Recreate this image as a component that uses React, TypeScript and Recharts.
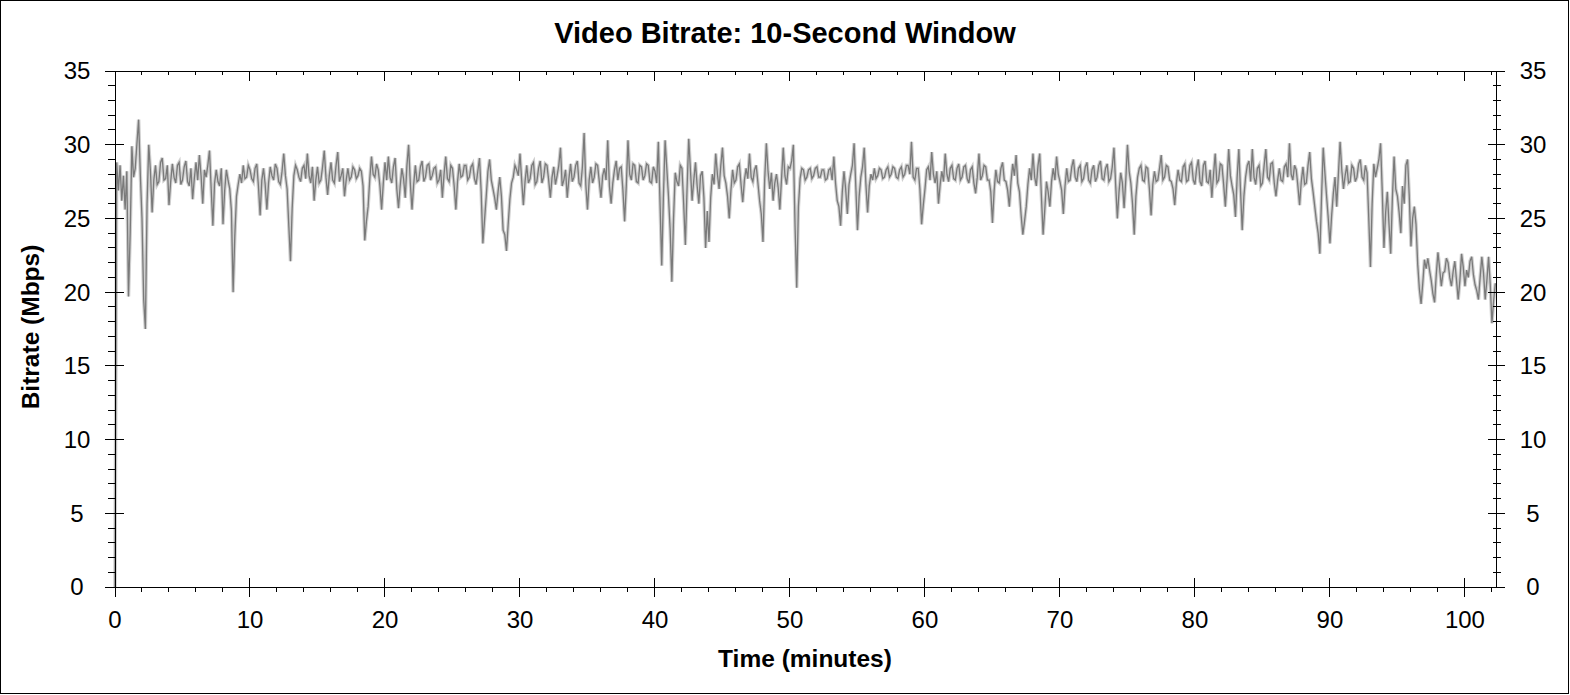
import { Line, LineChart, XAxis, YAxis } from "recharts";

// one sample every eighth of a minute
const STEP = 0.125;

const min00 = [
  0, 28.8, 26.9, 28.6, 26.2, 27.9, 25.6, 28.2, 19.7, 24.0,
  29.9, 27.8, 28.4, 30.1, 31.7, 28.0, 25.0, 19.5, 17.5, 26.0,
  30.0, 28.2, 25.4, 27.6, 28.6, 27.3, 27.5, 28.8, 29.1, 27.6,
  27.7, 28.6, 25.9, 27.5, 28.7, 27.8, 27.4, 28.6, 28.8, 27.3,
  27.6, 28.5, 28.9, 27.5, 27.2, 28.4, 26.3, 27.7, 28.8, 27.6,
  29.3, 27.9, 26.0, 28.3, 27.8, 28.6, 29.6, 27.0, 24.5, 27.4,
  28.3, 27.5, 27.2, 28.4, 24.6, 26.9, 28.3, 27.6, 27.0, 25.5,
  20.0, 23.8, 26.5, 27.3, 28.0, 27.4, 28.6, 27.7, 27.8, 28.6,
];
const min10 = [
  28.3, 27.7, 27.5, 28.4, 28.7, 27.2, 25.2, 27.6, 28.4, 27.3,
  25.6, 27.4, 28.5, 27.9, 27.6, 28.7, 28.4, 27.5, 27.3, 28.2,
  29.4, 27.9, 27.0, 24.5, 22.1, 25.7, 27.9, 28.6, 28.3, 27.8,
  27.5, 28.4, 28.6, 27.7, 29.4, 27.9, 27.4, 28.5, 26.2, 27.6,
  28.5, 27.4, 27.6, 28.5, 29.6, 27.8, 26.6, 27.9, 28.8, 27.6,
  27.4, 28.6, 29.5, 27.5, 27.9, 28.4, 26.5, 27.6, 28.4, 27.6,
  27.8, 28.5, 28.3, 27.7, 27.9, 28.4, 28.2, 27.2, 23.5, 24.8,
  25.8, 27.7, 29.2, 28.0, 27.8, 28.7, 28.3, 27.2, 25.6, 27.4,
];
const min20 = [
  28.8, 27.6, 29.2, 27.8, 27.4, 28.5, 29.1, 27.0, 25.7, 27.2,
  28.4, 27.7, 26.4, 28.6, 30.0, 27.4, 25.6, 27.3, 28.6, 27.5,
  27.6, 28.5, 28.9, 27.5, 27.8, 28.6, 28.7, 27.6, 27.9, 28.4,
  28.5, 27.4, 27.6, 28.3, 26.4, 28.0, 29.2, 27.7, 27.5, 28.6,
  28.4, 27.2, 25.6, 27.5, 28.7, 27.8, 27.9, 28.6, 28.6, 27.6,
  27.8, 28.5, 28.7, 27.7, 27.3, 28.2, 29.1, 26.8, 23.3, 24.9,
  26.5, 28.2, 29.0, 27.6, 27.0, 26.4, 25.6, 26.8, 27.8, 26.5,
  24.2, 23.9, 22.8, 24.6, 26.3, 27.4, 27.8, 28.6, 28.3, 27.9,
];
const min30 = [
  29.4, 27.6, 25.9, 27.5, 28.6, 27.4, 27.7, 28.6, 28.8, 27.3,
  27.5, 28.4, 28.9, 27.4, 27.8, 28.7, 28.6, 27.6, 26.4, 27.8,
  28.5, 27.3, 27.9, 28.6, 29.8, 27.2, 27.6, 28.3, 26.4, 27.7,
  28.7, 27.5, 27.8, 28.6, 28.9, 27.4, 27.2, 28.5, 30.8, 27.3,
  25.6, 27.6, 28.5, 27.4, 27.8, 28.7, 28.6, 27.5, 26.4, 27.9,
  28.4, 27.6, 30.3, 27.2, 26.0, 27.4, 28.3, 28.9, 27.6, 28.4,
  28.5, 26.9, 24.8, 27.2, 30.3, 28.0, 27.6, 28.7, 28.6, 27.5,
  27.4, 28.6, 28.5, 27.6, 27.9, 28.7, 28.6, 27.5, 27.4, 28.5,
];
const min40 = [
  28.2, 27.4, 30.2, 26.0, 21.8, 26.5, 30.3, 28.4, 26.5, 24.2,
  20.7, 25.0, 28.1, 27.5, 27.2, 28.6, 28.4, 26.0, 23.2, 27.0,
  30.4, 28.3, 26.2, 27.6, 28.8, 27.2, 26.0, 27.9, 28.2, 26.4,
  23.0, 25.5, 23.4, 26.4, 28.0, 27.3, 29.4, 28.0, 27.0, 28.6,
  29.8, 27.9, 27.4, 26.5, 25.0, 26.9, 28.3, 27.4, 27.6, 28.5,
  28.7, 27.3, 26.1, 27.6, 28.4, 27.7, 29.4, 27.8, 27.5, 28.3,
  28.6, 27.4, 26.2, 25.3, 23.4, 27.6, 30.1, 28.2, 27.0, 28.1,
  26.2, 27.4, 28.0, 27.1, 25.6, 27.7, 29.8, 27.9, 27.3, 28.5,
];
const min50 = [
  28.4, 28.9, 30.0, 24.5, 20.3, 25.8, 27.7, 28.4, 28.3, 27.6,
  27.8, 28.3, 28.4, 27.7, 27.9, 28.4, 28.5, 27.8, 27.8, 28.3,
  28.3, 27.6, 27.7, 28.3, 28.4, 27.6, 29.2, 27.4, 26.2, 25.8,
  24.5, 26.8, 28.2, 27.0, 25.3, 27.3, 28.0, 28.6, 30.1, 27.2,
  24.2, 26.5, 27.8, 28.5, 29.8, 27.3, 25.4, 27.2, 28.0, 27.6,
  28.4, 27.7, 27.9, 28.4, 28.3, 27.7, 27.8, 28.3, 28.5, 27.8,
  28.0, 28.5, 28.4, 27.8, 27.7, 28.3, 28.5, 27.8, 28.0, 28.6,
  28.6, 28.0, 30.2, 27.8, 27.6, 28.4, 28.4, 27.0, 24.6, 25.9,
];
const min60 = [
  27.0, 28.3, 28.5, 27.6, 29.5, 28.0, 27.4, 28.2, 26.0, 27.3,
  28.2, 27.5, 29.4, 28.0, 27.5, 28.4, 28.6, 27.7, 27.6, 28.4,
  28.7, 27.6, 27.8, 28.5, 28.6, 27.7, 27.4, 28.3, 28.5, 27.4,
  26.7, 27.8, 29.4, 27.6, 27.9, 28.6, 28.5, 27.6, 27.6, 26.8,
  24.7, 26.9, 28.3, 27.5, 27.4, 28.4, 28.8, 27.6, 27.5, 26.9,
  25.8, 27.5, 28.7, 27.9, 29.3, 27.4, 26.8, 25.2, 23.9, 24.8,
  25.8, 27.3, 28.4, 27.6, 29.4, 27.8, 27.2, 28.6, 29.4, 26.5,
  23.9, 25.6, 27.5, 26.8, 25.8, 27.5, 28.4, 27.6, 29.2, 28.0,
];
const min70 = [
  27.5, 26.9, 25.3, 27.2, 28.4, 27.5, 27.6, 28.5, 29.0, 27.8,
  27.5, 28.4, 28.6, 27.5, 27.7, 28.5, 28.8, 27.6, 27.4, 28.3,
  28.6, 27.5, 27.8, 28.6, 28.9, 27.7, 27.6, 28.4, 28.7, 27.5,
  27.7, 28.5, 29.8, 27.3, 25.0, 26.8, 28.1, 27.4, 25.7, 27.6,
  30.0, 28.2, 27.4, 26.0, 23.9, 26.5, 27.8, 28.4, 28.6, 27.6,
  27.5, 28.5, 28.4, 27.0, 25.2, 27.3, 28.2, 27.5, 27.6, 28.4,
  29.3, 27.6, 27.8, 28.6, 28.5, 27.6, 27.5, 27.0, 25.9, 27.4,
  28.3, 27.6, 27.5, 28.5, 28.7, 27.5, 27.6, 28.6, 28.8, 27.6,
];
const min80 = [
  27.3, 28.4, 29.0, 27.5, 27.2, 28.6, 28.9, 27.5, 27.4, 28.3,
  26.4, 28.0, 29.4, 27.4, 27.6, 28.7, 28.6, 27.3, 25.8, 27.6,
  29.7, 27.9, 27.2, 26.6, 25.1, 27.8, 29.7, 26.9, 24.2, 26.5,
  27.8, 28.6, 28.9, 27.5, 29.7, 27.8, 27.3, 28.4, 28.6, 27.2,
  27.4, 28.6, 29.7, 27.8, 27.6, 28.7, 28.8, 27.4, 26.5, 27.6,
  28.4, 27.6, 27.5, 28.5, 28.7, 27.8, 30.1, 28.0, 27.6, 28.6,
  28.3, 27.2, 25.9, 27.5, 28.5, 27.3, 27.4, 28.6, 29.5, 27.7,
  26.8, 25.8, 24.8, 24.0, 22.6, 26.4, 29.8, 28.1, 26.5, 25.0,
];
const min90 = [
  23.3, 25.2, 26.7, 27.8, 25.8, 28.0, 30.2, 28.3, 27.0, 27.9,
  28.6, 27.4, 27.5, 28.6, 28.4, 27.5, 27.8, 28.7, 29.0, 27.8,
  27.6, 28.6, 28.1, 25.0, 21.7, 26.0, 28.7, 27.8, 28.4, 29.0,
  30.1, 26.8, 23.0, 25.4, 26.8, 24.6, 22.6, 26.4, 29.2, 27.0,
  26.5, 25.4, 24.0, 27.2, 26.0, 28.6, 29.0, 26.5, 23.1, 25.0,
  25.8, 24.6, 21.9, 20.2, 19.2, 20.6, 22.2, 21.6, 22.3, 21.5,
  20.8, 19.9, 19.3, 21.2, 22.7, 21.6, 20.4, 21.3, 21.4, 22.3,
  22.0, 21.0, 20.4, 21.4, 22.1, 20.8, 19.5, 20.8, 22.6, 21.7,
];
const min100 = [
  20.4, 21.5, 21.0, 22.1, 22.4, 21.2, 20.5, 20.1, 19.5, 21.0,
  22.4, 21.3, 19.5, 20.8, 22.4, 20.5, 17.9, 19.4, 20.6,
];

const bitrate = [
  ...min00, ...min10, ...min20, ...min30, ...min40, ...min50,
  ...min60, ...min70, ...min80, ...min90, ...min100,
];
const data = bitrate.map((v, i) => ({ t: i * STEP, v }));

const xTicks = [
  0, 2, 4, 6, 8, 10, 12, 14, 16, 18, 20, 22, 24, 26, 28, 30, 32, 34, 36, 38,
  40, 42, 44, 46, 48, 50, 52, 54, 56, 58, 60, 62, 64, 66, 68, 70, 72, 74, 76,
  78, 80, 82, 84, 86, 88, 90, 92, 94, 96, 98, 100, 102,
];
const yTicks = [
  0, 1, 2, 3, 4, 5, 6, 7, 8, 9, 10, 11, 12, 13, 14, 15, 16, 17, 18, 19, 20,
  21, 22, 23, 24, 25, 26, 27, 28, 29, 30, 31, 32, 33, 34, 35,
];

const FONT = '"Liberation Sans", Arial, Helvetica, sans-serif';
const tickText = { fontSize: 24, fontFamily: FONT, fill: "#000" };

function LeftTick({ x, y, payload }: any) {
  const major = payload.value % 5 === 0;
  return (
    <g>
      <line x1={major ? x - 10 : x - 7} x2={major ? x + 9 : x} y1={y} y2={y}
        stroke="#000" shapeRendering="crispEdges" />
      {major && (
        <text x={x - 38} y={y} dy="0.35em" textAnchor="middle" {...tickText}>
          {payload.value}
        </text>
      )}
    </g>
  );
}

function RightTick({ x, y, payload }: any) {
  const major = payload.value % 5 === 0;
  return (
    <g>
      <line x1={major ? x - 8 : x - 3} x2={major ? x + 9 : x + 5} y1={y} y2={y}
        stroke="#000" shapeRendering="crispEdges" />
      {major && (
        <text x={x + 37} y={y} dy="0.35em" textAnchor="middle" {...tickText}>
          {payload.value}
        </text>
      )}
    </g>
  );
}

function BottomTick({ x, y, payload }: any) {
  const major = payload.value % 10 === 0;
  return (
    <g>
      <line x1={x} x2={x} y1={major ? y - 9 : y} y2={major ? y + 10 : y + 5}
        stroke="#000" shapeRendering="crispEdges" />
      {major && (
        <text x={x} y={y + 41} textAnchor="middle" {...tickText}>
          {payload.value}
        </text>
      )}
    </g>
  );
}

function TopTick({ x, y, payload }: any) {
  const major = payload.value % 10 === 0;
  return (
    <line x1={x} x2={x} y1={y} y2={y + (major ? 10 : 4)}
      stroke="#000" shapeRendering="crispEdges" />
  );
}

export default function App() {
  const axisLine = { stroke: "#000", shapeRendering: "crispEdges" };
  return (
    <div
      style={{
        position: "absolute",
        left: 0,
        top: 0,
        width: 1570,
        height: 695,
        background: "#fff",
        overflow: "hidden",
      }}
    >
      <LineChart
        width={1570}
        height={695}
        data={data}
        margin={{ top: 51, right: 14, bottom: 68, left: 55 }}
      >
        <XAxis
          dataKey="t"
          type="number"
          domain={[0, 102.3]}
          ticks={xTicks}
          interval={0}
          height={40}
          tickSize={0}
          tickMargin={0}
          tickLine={false}
          axisLine={axisLine}
          tick={BottomTick}
        />
        <XAxis
          xAxisId="top"
          dataKey="t"
          orientation="top"
          type="number"
          domain={[0, 102.3]}
          ticks={xTicks}
          interval={0}
          height={20}
          tickSize={0}
          tickMargin={0}
          tickLine={false}
          axisLine={axisLine}
          tick={TopTick}
        />
        <YAxis
          type="number"
          domain={[0, 35]}
          ticks={yTicks}
          interval={0}
          width={60}
          tickSize={0}
          tickMargin={0}
          tickLine={false}
          axisLine={axisLine}
          tick={LeftTick}
        />
        <YAxis
          yAxisId="right"
          orientation="right"
          type="number"
          domain={[0, 35]}
          ticks={yTicks}
          interval={0}
          width={60}
          tickSize={0}
          tickMargin={0}
          tickLine={false}
          axisLine={axisLine}
          tick={RightTick}
        />
        <Line
          xAxisId="top"
          yAxisId="right"
          dataKey="v"
          stroke="none"
          dot={false}
          activeDot={false}
          isAnimationActive={false}
        />
        <Line
          dataKey="v"
          type="linear"
          stroke="#d0d0d0"
          strokeWidth={3.5}
          dot={false}
          activeDot={false}
          isAnimationActive={false}
        />
        <Line
          dataKey="v"
          type="linear"
          stroke="#7a7a7a"
          strokeWidth={1.3}
          dot={false}
          activeDot={false}
          isAnimationActive={false}
        />
      </LineChart>
      <svg
        width={1570}
        height={695}
        style={{ position: "absolute", left: 0, top: 0, pointerEvents: "none" }}
      >
        <text x={785} y={43} textAnchor="middle" fontSize={29} fontWeight="bold"
          fontFamily={FONT} fill="#000">
          Video Bitrate: 10-Second Window
        </text>
        <text x={805} y={667} textAnchor="middle" fontSize={24.5} fontWeight="bold"
          fontFamily={FONT} fill="#000">
          Time (minutes)
        </text>
        <text x={39} y={327} transform="rotate(-90 39 327)" textAnchor="middle"
          fontSize={24.5} fontWeight="bold" fontFamily={FONT} fill="#000">
          Bitrate (Mbps)
        </text>
      </svg>
      <div
        style={{
          position: "absolute",
          left: 0,
          top: 0,
          width: 1569,
          height: 694,
          boxSizing: "border-box",
          border: "1px solid #000",
          pointerEvents: "none",
        }}
      />
    </div>
  );
}
